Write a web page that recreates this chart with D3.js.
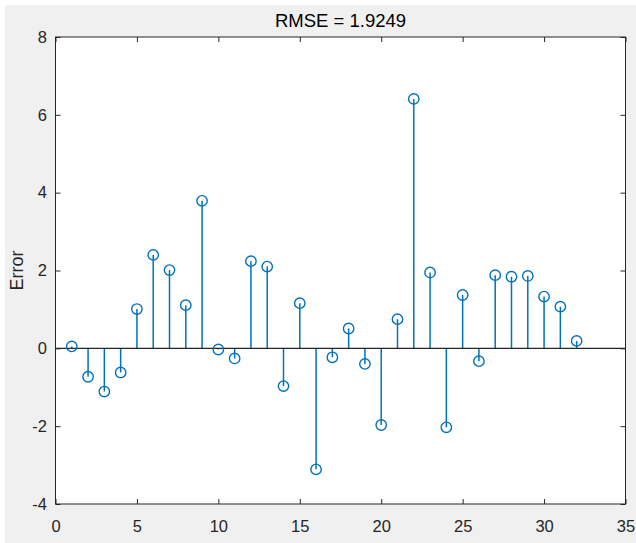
<!DOCTYPE html>
<html>
<head>
<meta charset="utf-8">
<script src="https://cdn.jsdelivr.net/npm/d3@7"></script>
<style>
    html, body { margin: 0; padding: 0; background: #ffffff; }
    #container { width: 636px; height: 543px; }
</style>
</head>
<body>
<div id="container"></div>
<script>
// sample index and error values
const sampleIdx = d3.range(1, 33);
const errors = [
    0.05, -0.73, -1.11, -0.62, 1.01, 2.40, 2.01, 1.11, 3.79, -0.03,
    -0.26, 2.24, 2.10, -0.97, 1.16, -3.11, -0.23, 0.51, -0.40, -1.97,
    0.75, 6.41, 1.95, -2.03, 1.37, -0.33, 1.88, 1.84, 1.86, 1.33,
    1.07, 0.19
];
const xTicks = [0, 5, 10, 15, 20, 25, 30, 35];
const yTicks = [-4, -2, 0, 2, 4, 6, 8];
const titleText = 'RMSE = 1.9249';
const yLabel = 'Error';

const width = 636, height = 543;
const plotL = 55.5, plotR = 625.5, plotT = 37, plotB = 504;
const axisColor = '#262626';
const stemColor = '#0072BD';
const font = 'Arial, "Liberation Sans", sans-serif';

const svg = d3.select('#container')
    .append('svg')
    .attr('width', width)
    .attr('height', height);

// figure background (white strip on top/left)
svg.append('rect')
    .attr('x', 5).attr('y', 5)
    .attr('width', width - 5).attr('height', height - 5)
    .attr('fill', '#f0f0f0');

const x = d3.scaleLinear().domain([0, 35]).range([plotL, plotR]);
const y = d3.scaleLinear().domain([-4, 8]).range([plotB, plotT]);

svg.append('rect')
    .attr('x', plotL).attr('y', plotT)
    .attr('width', plotR - plotL).attr('height', plotB - plotT)
    .attr('fill', '#ffffff');

// axes with inward ticks
const axisStyle = g => {
    g.selectAll('.domain').remove();
    g.selectAll('line').attr('stroke', axisColor);
    g.selectAll('text')
        .style('font-family', font)
        .style('font-size', '16.5px')
        .attr('fill', axisColor);
};
const plain = d => String(d);
svg.append('g')
    .attr('transform', `translate(0,${plotB})`)
    .call(d3.axisBottom(x).tickValues(xTicks).tickFormat(plain).tickSizeInner(-5).tickSizeOuter(0).tickPadding(16))
    .call(axisStyle);
svg.append('g')
    .attr('transform', `translate(0,${plotT})`)
    .call(d3.axisTop(x).tickValues(xTicks).tickSizeInner(-5).tickSizeOuter(0).tickFormat(''))
    .call(axisStyle);
svg.append('g')
    .attr('transform', `translate(${plotL},0)`)
    .call(d3.axisLeft(y).tickValues(yTicks).tickFormat(plain).tickSizeInner(-5).tickSizeOuter(0).tickPadding(8.5))
    .call(axisStyle);
svg.append('g')
    .attr('transform', `translate(${plotR},0)`)
    .call(d3.axisRight(y).tickValues(yTicks).tickSizeInner(-5).tickSizeOuter(0).tickFormat(''))
    .call(axisStyle);

// box
svg.append('rect')
    .attr('x', plotL).attr('y', plotT)
    .attr('width', plotR - plotL).attr('height', plotB - plotT)
    .attr('fill', 'none')
    .attr('stroke', axisColor)
    .attr('stroke-width', 1);

// stems
svg.selectAll('.stem')
    .data(errors)
    .join('line')
    .attr('class', 'stem')
    .attr('x1', (d, i) => x(sampleIdx[i]))
    .attr('x2', (d, i) => x(sampleIdx[i]))
    .attr('y1', y(0))
    .attr('y2', d => y(d))
    .attr('stroke', stemColor)
    .attr('stroke-width', 1.5);

// baseline
svg.append('line')
    .attr('x1', x(0)).attr('x2', x(35))
    .attr('y1', y(0)).attr('y2', y(0))
    .attr('stroke', axisColor)
    .attr('stroke-width', 1.2);

// markers
svg.selectAll('.marker')
    .data(errors)
    .join('circle')
    .attr('class', 'marker')
    .attr('cx', (d, i) => x(sampleIdx[i]))
    .attr('cy', d => y(d))
    .attr('r', 5.2)
    .attr('fill', 'none')
    .attr('stroke', stemColor)
    .attr('stroke-width', 1.4);

// title
svg.append('text')
    .text(titleText)
    .attr('x', (plotL + plotR) / 2)
    .attr('y', 26.5)
    .attr('text-anchor', 'middle')
    .style('font-family', font)
    .style('font-size', '18.5px')
    .attr('fill', '#000000');

// y label
svg.append('text')
    .text(yLabel)
    .attr('transform', `translate(23,${(plotT + plotB) / 2}) rotate(-90)`)
    .attr('text-anchor', 'middle')
    .style('font-family', font)
    .style('font-size', '18px')
    .attr('fill', axisColor);
</script>
</body>
</html>
